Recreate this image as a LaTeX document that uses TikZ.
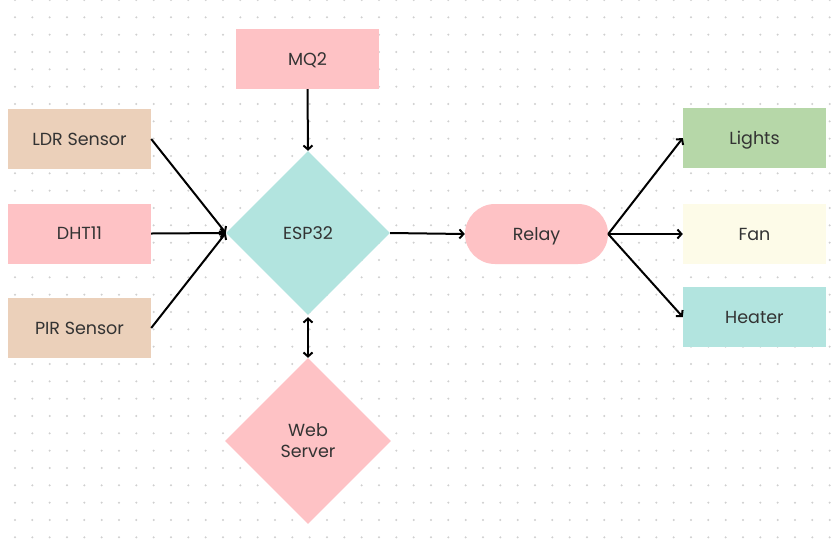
\documentclass[tikz,border=0pt]{standalone}
\usepackage{fontspec}
\setmainfont{Poppins}
\usetikzlibrary{shapes.geometric,arrows.meta}
\definecolor{cpink}{HTML}{FEC2C5}
\definecolor{ctan}{HTML}{EBD0BA}
\definecolor{cteal}{HTML}{B2E4DF}
\definecolor{cgreen}{HTML}{B6D7A8}
\definecolor{ccream}{HTML}{FDFBE8}
\definecolor{ctext}{HTML}{333333}
\definecolor{cdot}{HTML}{CFCFCF}
\tikzset{
  box/.style={rectangle,minimum width=143pt,minimum height=60pt,inner sep=0pt,font=\fontsize{17.5}{21}\selectfont,text=ctext,text height=12.3pt,text depth=0pt},
  dia/.style={diamond,aspect=1,inner sep=0pt,font=\fontsize{17.5}{21}\selectfont,text=ctext,align=center},
  conn/.style={line width=2pt,-{Straight Barb[length=4pt,width=9pt,line width=2pt]}},
  bconn/.style={line width=2pt,{Straight Barb[length=4pt,width=9pt,line width=2pt]}-{Straight Barb[length=4pt,width=9pt,line width=2pt]}}
}
\begin{document}
\begin{tikzpicture}[x=1pt,y=-1pt]
\useasboundingbox[fill=white] (0,0) rectangle (833,542);
\foreach \i in {0,...,47}{\foreach \j in {0,...,31}{\fill[cdot] ({15+17.333*\i},{17.333*\j}) circle (1.1pt);}}
\node[box,fill=cpink] (mq2) at (307.5,59) {MQ2};
\node[box,fill=ctan] (ldr) at (79.5,139) {LDR Sensor};
\node[box,fill=cpink] (dht) at (79.5,233.5) {DHT11};
\node[box,fill=ctan] (pir) at (79.5,328) {PIR Sensor};
\node[dia,fill=cteal,minimum size=164pt,text height=12.3pt,text depth=0pt] (esp) at (308,233) {ESP32};
\node[dia,fill=cpink,minimum size=166pt] (web) at (308,441) {Web\\Server};
\node[box,fill=cpink,rounded corners=30pt] (relay) at (536.5,234) {Relay};
\node[box,fill=cgreen] (lights) at (754.5,138) {Lights};
\node[box,fill=ccream] (fan) at (754.5,234) {Fan};
\node[box,fill=cteal] (heater) at (754.5,317) {Heater};
\draw[conn] (mq2.south) -- (esp.north);
\draw[conn] (ldr.east) -- (esp.west);
\draw[conn] (dht.east) -- (esp.west);
\draw[conn] (pir.east) -- (esp.west);
\draw[conn] (esp.east) -- (relay.west);
\draw[conn] (relay.east) -- (lights.west);
\draw[conn] (relay.east) -- (fan.west);
\draw[conn] (relay.east) -- (heater.west);
\draw[bconn] ([yshift=-2pt]esp.south) -- (web.north);
\end{tikzpicture}
\end{document}
